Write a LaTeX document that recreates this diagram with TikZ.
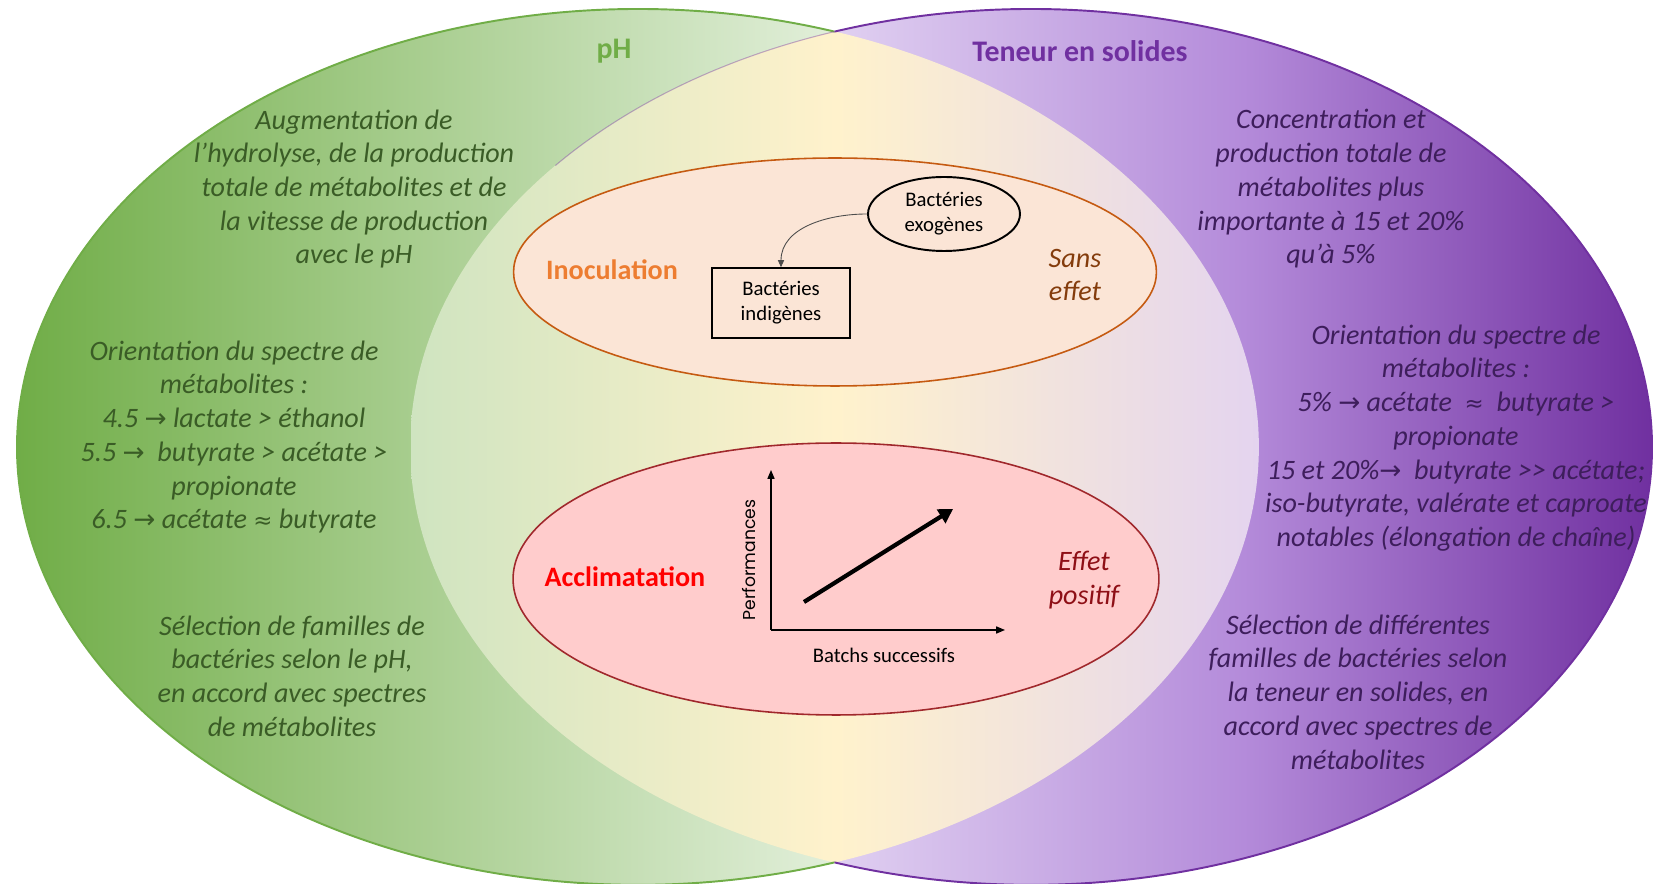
\documentclass[tikz,border=0pt]{standalone}
\usepackage{fontspec}
\setmainfont{Carlito}
\newfontfamily\symbfont{DejaVu Sans}
\newfontfamily\axisfont{Poppins}
\usetikzlibrary{arrows.meta,positioning,shapes.geometric}
\definecolor{phgreen}{HTML}{70AD47}
\definecolor{phlight}{HTML}{E2EFDA}
\definecolor{phtext}{HTML}{3A5C26}
\definecolor{tsviolet}{HTML}{7030A0}
\definecolor{tsmid}{HTML}{B48BDA}
\definecolor{tslight}{HTML}{E0D0F1}
\definecolor{tstext}{HTML}{3E1E5C}
\definecolor{mixgreen}{HTML}{CFE4C0}
\definecolor{mixyellow}{HTML}{FFF2CC}
\definecolor{mixviolet}{HTML}{E4D4EF}
\definecolor{inocline}{HTML}{C55A11}
\definecolor{inocfill}{HTML}{FBE5D6}
\definecolor{inoctext}{HTML}{ED7D31}
\definecolor{sanstext}{HTML}{843C0C}
\definecolor{acclline}{HTML}{A0282C}
\definecolor{acclfill}{HTML}{FFCCCC}
\definecolor{accltext}{HTML}{FF0000}
\definecolor{effettext}{HTML}{8E0F16}
\newcommand{\bigtxt}{\fontsize{16}{19.2}\selectfont}
\newcommand{\titletxt}{\fontsize{17}{20}\selectfont}
\newcommand{\smalltxt}{\fontsize{11.8}{14.2}\selectfont}
\newcommand{\ra}{{\symbfont\fontsize{15}{19.2}\selectfont →}}
\newcommand{\apx}{{\symbfont\fontsize{13}{19.2}\selectfont ≈}}

\begin{document}
\begin{tikzpicture}[x=0.02cm, y=-0.02cm,
    blocktext/.style={align=center, font=\bigtxt\itshape, inner sep=0pt},
    phblock/.style={blocktext, text=phtext},
    tsblock/.style={blocktext, text=tstext},
    title/.style={font=\titletxt\bfseries, inner sep=0pt},
    zone/.style={ellipse, draw, line width=0.9pt, inner sep=0pt},
    bact/.style={draw, font=\smalltxt, align=center, inner sep=0pt},
    axis/.style={line width=0.7pt, -{Triangle[length=5pt, width=4pt]}},
    trend/.style={line width=2.4pt, -{Triangle[length=8pt, width=9pt]}},
    venn/.style={line width=1.1pt}
  ]
  \useasboundingbox (0,0) rectangle (1654,884);

  % fonds des deux ensembles
  \begin{scope}
    \clip (638,447) ellipse [x radius=12.42cm, y radius=8.76cm];
    \shade[left color=phgreen, right color=phlight] (17,0) rectangle (835,884);
  \end{scope}
  \begin{scope}
    \clip (1031,447) ellipse [x radius=12.42cm, y radius=8.76cm];
    \shade[left color=tslight, right color=tsviolet, middle color=tsmid] (834,0) rectangle (1652,884);
  \end{scope}
  \begin{scope}
    \clip (638,447) ellipse [x radius=12.42cm, y radius=8.76cm];
    \clip (1031,447) ellipse [x radius=12.42cm, y radius=8.76cm];
    \shade[left color=mixgreen, right color=mixviolet, middle color=mixyellow] (411,0) rectangle (1260,884);
  \end{scope}
  \draw[venn, phgreen] ([shift={(638,447)}]71.55:12.42cm and 8.76cm)
    arc[start angle=71.55, end angle=288.45, x radius=12.42cm, y radius=8.76cm];
  \draw[venn, tsviolet] ([shift={(1031,447)}]108.45:12.42cm and 8.76cm)
    arc[start angle=108.45, end angle=-108.45, x radius=12.42cm, y radius=8.76cm];
  \draw[tsviolet, line width=0.6pt, opacity=0.4] ([shift={(1031,447)}]108.45:12.42cm and 8.76cm)
    arc[start angle=108.45, end angle=140, x radius=12.42cm, y radius=8.76cm];

  \node[title, text=phgreen] (phtitle) at (614,51) {pH};
  \node[title, text=tsviolet] (tstitle) at (1080,51) {Teneur en solides};

  \node[phblock] (phA) at (354,189) {Augmentation de\\l’hydrolyse, de la production\\totale de métabolites et de\\la vitesse de production\\avec le pH};
  \node[phblock] (phB) at (234,437) {Orientation du spectre de\\métabolites :\\4.5 \ra{} lactate > éthanol\\5.5 \ra{}~ butyrate > acétate >\\propionate\\6.5 \ra{} acétate \apx{} butyrate};
  \node[phblock] (phC) at (292,676) {Sélection de familles de\\bactéries selon le pH,\\en accord avec spectres\\de métabolites};

  \node[tsblock] (tsA) at (1331,189) {Concentration et\\production totale de\\métabolites plus\\importante à 15 et 20\%\\qu’à 5\%};
  \node[tsblock] (tsB) at (1456,438) {Orientation du spectre de\\métabolites :\\5\% \ra{} acétate~ \apx{}~ butyrate >\\propionate\\15 et 20\%\ra{}~ butyrate >{}> acétate;\\iso-butyrate, valérate et caproate\\notables (élongation de chaîne)};
  \node[tsblock] (tsC) at (1358,692) {Sélection de différentes\\familles de bactéries selon\\la teneur en solides, en\\accord avec spectres de\\métabolites};

  % inoculation
  \node[zone, draw=inocline, fill=inocfill, minimum width=12.86cm, minimum height=4.56cm] (inoc) at (835,272) {};
  \node[font=\bigtxt\bfseries, text=inoctext] (inoclabel) at (612,270) {Inoculation};
  \node[font=\bigtxt\itshape, text=sanstext, align=center] (sans) at (1075,275) {Sans\\effet};
  \node[bact, ellipse, line width=1.1pt, minimum width=3.04cm, minimum height=1.48cm] (exo) at (944,214) {Bactéries\\exogènes};
  \node[bact, line width=0.9pt, minimum width=2.76cm, minimum height=1.40cm] (indi) at (781,303) {Bactéries\\indigènes};
  \draw[line width=0.5pt, black!70, -{Triangle[length=4pt, width=3.5pt]}] (exo.west) to[out=180, in=90] (indi.north);

  % acclimatation
  \node[zone, draw=acclline, fill=acclfill, minimum width=12.92cm, minimum height=5.44cm] (accl) at (836,579) {};
  \node[font=\bigtxt\bfseries, text=accltext] (accllabel) at (625,577) {Acclimatation};
  \node[font=\bigtxt\itshape, text=effettext, align=center] (effet) at (1084,580) {Effet\\positif};
  \coordinate (origin) at (771,630);
  \coordinate (ytop) at (771,470);
  \coordinate (xend) at (1005,630);
  \coordinate (trendlow) at (804,602);
  \coordinate (trendhigh) at (953,509);
  \draw[axis] (origin) -- (ytop);
  \draw[axis] (origin) -- (xend);
  \draw[trend] (trendlow) -- (trendhigh);
  \node[rotate=90, font=\axisfont\fontsize{9.8}{12}\selectfont, inner sep=0pt] (perf) at (749,560) {Performances};
  \node[font=\smalltxt, inner sep=0pt] (batchs) at (884,655) {Batchs successifs};
\end{tikzpicture}
\end{document}
